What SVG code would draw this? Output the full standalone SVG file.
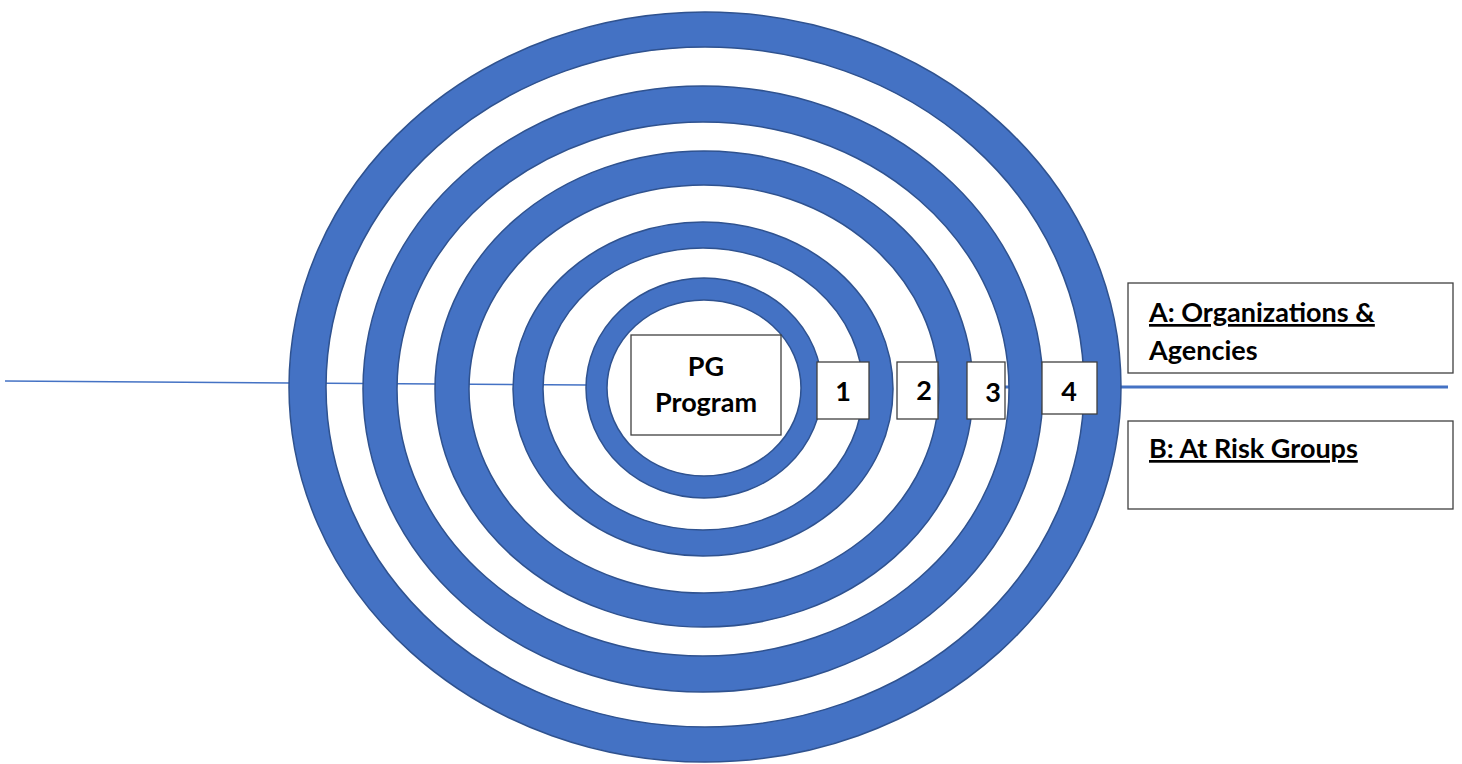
<svg xmlns="http://www.w3.org/2000/svg" width="1462" height="764" viewBox="0 0 1462 764">
<style>
.ring{fill:#4472C4;fill-rule:evenodd;stroke:#2F528F;stroke-width:1.5}
.box{fill:#FFFFFF;stroke:#404040;stroke-width:1.3}
.t{font-family:Lato,"Open Sans","Liberation Sans",sans-serif;font-weight:bold;font-size:27px;fill:#000}
.c{text-anchor:middle}
.u{text-decoration:underline}
.ln{stroke:#4472C4;fill:none}
</style>
<rect width="1462" height="764" fill="#FFFFFF"/>
<g id="connectors">
<line class="ln" x1="5" y1="381" x2="588" y2="385" stroke-width="1.5"/>
<line class="ln" x1="1005" y1="387" x2="1448" y2="387" stroke-width="3"/>
</g>
<g id="rings">
<path id="ring1" class="ring" d="M289,387 a416,375 0 1,0 832,0 a416,375 0 1,0 -832,0 Z M326,387 a379,340 0 1,0 758,0 a379,340 0 1,0 -758,0 Z"/>
<path id="ring2" class="ring" d="M363,389 a340,303 0 1,0 680,0 a340,303 0 1,0 -680,0 Z M397,389 a306,267 0 1,0 612,0 a306,267 0 1,0 -612,0 Z"/>
<path id="ring3" class="ring" d="M435,389 a269,238 0 1,0 538,0 a269,238 0 1,0 -538,0 Z M469,389 a235,204 0 1,0 470,0 a235,204 0 1,0 -470,0 Z"/>
<path id="ring4" class="ring" d="M513,389 a190,167 0 1,0 380,0 a190,167 0 1,0 -380,0 Z M543,389 a160,141 0 1,0 320,0 a160,141 0 1,0 -320,0 Z"/>
<path id="ring5" class="ring" d="M586,388 a118,110 0 1,0 236,0 a118,110 0 1,0 -236,0 Z M607,388 a97,88 0 1,0 194,0 a97,88 0 1,0 -194,0 Z"/>
</g>
<g id="pg">
<rect class="box" x="631" y="335" width="150" height="100"/>
<text class="t c" x="706" y="376">PG</text>
<text class="t c" x="706" y="412">Program</text>
</g>
<g id="n1">
<rect class="box" x="817" y="362" width="52" height="57"/>
<text class="t c" x="843" y="401">1</text>
</g>
<g id="n2">
<rect class="box" x="897" y="362" width="41" height="57"/>
<text class="t c" x="924" y="400">2</text>
</g>
<g id="n3">
<rect class="box" x="967" y="362" width="38" height="57"/>
<text class="t c" x="993" y="402">3</text>
</g>
<g id="n4">
<rect class="box" x="1042" y="362" width="55" height="52"/>
<text class="t c" x="1069" y="401">4</text>
</g>
<g id="boxA">
<rect class="box" x="1128" y="283" width="325" height="90"/>
<text class="t u" x="1149" y="322" font-size="26">A: Organizations &amp;</text>
<text class="t" x="1149" y="360" font-size="26">Agencies</text>
</g>
<g id="boxB">
<rect class="box" x="1128" y="421" width="325" height="88"/>
<text class="t u" x="1149" y="458" font-size="26">B: At Risk Groups</text>
</g>
</svg>
